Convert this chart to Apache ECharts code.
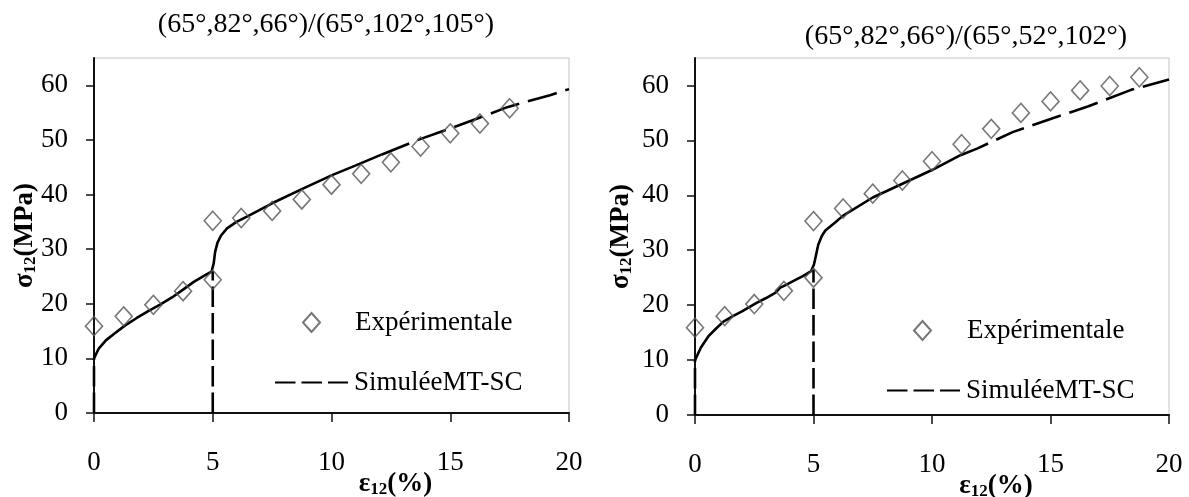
<!DOCTYPE html>
<html>
<head>
<meta charset="utf-8">
<script src="https://cdn.jsdelivr.net/npm/echarts@6/dist/echarts.min.js"></script>
<style>
html,body{margin:0;padding:0;background:#fff;}
#c{width:1189px;height:497px;}
</style>
</head>
<body>
<div id="c"></div>
<script>
// ---- data ----
const titles = ['(65°,82°,66°)/(65°,102°,105°)', '(65°,82°,66°)/(65°,52°,102°)'];
const xTicks = [0, 5, 10, 15, 20];
const yTicks = [0, 10, 20, 30, 40, 50, 60];
const expName = 'Expérimentale';
const simName = 'SimuléeMT-SC';

// experimental points
const expLeft = [[0,15.9],[1.25,17.7],[2.5,19.8],[3.75,22.3],[5,24.4],[5,35.2],[6.2,35.7],[7.5,37],[8.75,39.1],[10,41.8],[11.25,43.8],[12.5,45.9],[13.75,48.8],[15,51.2],[16.25,53],[17.5,55.8]];
const expRight = [[0,15.9],[1.25,18],[2.5,20.2],[3.75,22.6],[5,25],[5,35.3],[6.25,37.6],[7.5,40.3],[8.75,42.7],[10,46.2],[11.25,49.3],[12.5,52.1],[13.75,55],[15,57.1],[16.25,59.1],[17.5,59.9],[18.75,61.5]];

// simulated MT-SC curves (solid-looking dense part)
const simLeftCurve = [[0,10],[0.2,11.8],[0.5,13.3],[0.85,14.5],[1.3,16],[1.8,17.4],[2.3,18.7],[2.8,19.9],[3.3,21.2],[3.75,22.6],[4.2,24],[4.7,25.3],[4.95,25.9],[5.04,27.4],[5.1,29.5],[5.2,31.2],[5.35,32.5],[5.6,33.8],[6,35],[6.5,36.1],[7.5,38.4],[8.75,41],[10,43.5],[11,45.3],[12.1,47.3]];
const simLeftTail = [[12.1,47.3],[13.7,50.1],[15,52.1],[16.2,54],[17.4,56],[19.2,58.2],[20,59.3]];
const simLeftRise0 = [[0,0],[0,10]];
const simLeftRise5 = [[5,0],[5,26]];

const simRightCurve = [[0,10],[0.25,12.3],[0.56,14.3],[0.9,15.8],[1.2,17],[1.6,18],[2,18.9],[2.6,20.4],[3,21.3],[3.4,22.3],[3.6,23.2],[3.8,23.6],[4.2,24.5],[4.55,25.3],[4.9,26.2],[5.02,27.4],[5.1,29],[5.2,31],[5.35,32.6],[5.5,33.6],[5.9,35],[6.25,36.3],[7.5,39.6],[8.75,42.1],[10,44.6],[11.2,47.3]];
const simRightTail = [[11.2,47.3],[11.9,48.5],[13.4,51.5],[15,53.9],[16.6,56.2],[18.4,59.2],[20,61.1]];
const simRightRise0 = [[0,0],[0,10]];
const simRightRise5 = [[5,0],[5,26.5]];

// ---- chart ----
const FONT = 'Liberation Serif';
const chart = echarts.init(document.getElementById('c'), null, {renderer: 'canvas'});

function xAxisCfg(gi) {
  return {
    type: 'value', gridIndex: gi, min: 0, max: 20, interval: 5,
    name: '{a|ε}{b|12}{a|(%)}', nameLocation: 'middle', nameGap: 57, nameMoveOverlap: false,
    nameTextStyle: {
      padding: [0, 0, 0, 128],
      rich: {
        a: {fontFamily: FONT, fontWeight: 'bold', fontSize: 27, lineHeight: 28, color: '#000'},
        b: {fontFamily: FONT, fontWeight: 'bold', fontSize: 17, lineHeight: 14, verticalAlign: 'bottom', color: '#000'}
      }
    },
    axisLine: {show: true, lineStyle: {color: '#111', width: 2}},
    axisTick: {show: true, inside: false, length: 9, lineStyle: {color: '#111', width: 1.5}},
    axisLabel: {fontFamily: FONT, fontSize: 27, color: '#000', margin: 36},
    splitLine: {show: false}
  };
}
function yAxisCfg(gi, gap) {
  return {
    type: 'value', gridIndex: gi, min: 0, max: 65, interval: 10,
    name: '{a|σ}{b|12}{a|(MPa)}', nameLocation: 'middle', nameGap: gap, nameRotate: 90, nameMoveOverlap: false,
    nameTextStyle: {
      rich: {
        a: {fontFamily: FONT, fontWeight: 'bold', fontSize: 27, lineHeight: 28, color: '#000'},
        b: {fontFamily: FONT, fontWeight: 'bold', fontSize: 17, lineHeight: 14, verticalAlign: 'bottom', color: '#000'}
      }
    },
    axisLine: {show: true, lineStyle: {color: '#111', width: 2}},
    axisTick: {show: true, inside: false, length: 8, customValues: yTicks, lineStyle: {color: '#111', width: 1.5}},
    axisLabel: {fontFamily: FONT, fontSize: 27, color: '#000', margin: 26, customValues: yTicks},
    splitLine: {show: false}
  };
}
function expSeries(gi, data) {
  return {
    type: 'scatter', name: expName, xAxisIndex: gi, yAxisIndex: gi, data: data,
    symbol: 'diamond', symbolSize: [17, 19],
    itemStyle: {color: 'rgba(0,0,0,0)', borderColor: '#555', borderWidth: 1.6},
    z: 3
  };
}
function simSeries(gi, data, dash) {
  return {
    type: 'line', name: simName, xAxisIndex: gi, yAxisIndex: gi, data: data,
    symbol: 'none', showSymbol: false, smooth: false, color: '#000',
    lineStyle: {color: '#000', width: 2.6, type: dash || 'solid'},
    z: 2
  };
}
function expLegend(left, top, textPad) {
  return {
    data: [expName], left: left, top: top,
    itemWidth: 17, itemHeight: 19,
    textStyle: {fontFamily: FONT, fontSize: 27, color: '#000', padding: [0, 0, 0, textPad]},
    selectedMode: false
  };
}
function simLegend(left, top) {
  return {
    data: [simName], left: left, top: top,
    itemWidth: 73, itemHeight: 14,
    itemStyle: {opacity: 0},
    textStyle: {fontFamily: FONT, fontSize: 27, color: '#000', padding: [0, 0, 0, 1]},
    selectedMode: false
  };
}

const DASH_V = [20.5, 6];
const DASH_T = [30, 9];

const option = {
  animation: false,
  backgroundColor: '#fff',
  title: [
    {text: titles[0], left: 321, top: 6, textAlign: 'center', textStyle: {fontFamily: FONT, fontWeight: 'normal', fontSize: 28, color: '#000'}},
    {text: titles[1], left: 961, top: 18, textAlign: 'center', textStyle: {fontFamily: FONT, fontWeight: 'normal', fontSize: 28, color: '#000'}}
  ],
  grid: [
    {left: 94, right: 620, top: 58, bottom: 84, outerBoundsMode: 'none', containLabel: false, show: true, borderColor: '#c4c4c4', borderWidth: 1, backgroundColor: 'transparent'},
    {left: 695, right: 20, top: 58, bottom: 82, outerBoundsMode: 'none', containLabel: false, show: true, borderColor: '#c4c4c4', borderWidth: 1, backgroundColor: 'transparent'}
  ],
  xAxis: [xAxisCfg(0), xAxisCfg(1)],
  yAxis: [yAxisCfg(0, 55), yAxisCfg(1, 60)],
  legend: [
    expLegend(297, 304, 30),
    simLegend(269, 364),
    expLegend(908, 312, 31),
    simLegend(881, 372)
  ],
  series: [
    simSeries(0, simLeftRise0, DASH_V),
    simSeries(0, simLeftRise5, DASH_V),
    simSeries(0, simLeftTail, DASH_T),
    simSeries(0, simLeftCurve, null),
    expSeries(0, expLeft),
    simSeries(1, simRightRise0, DASH_V),
    simSeries(1, simRightRise5, DASH_V),
    simSeries(1, simRightTail, DASH_T),
    simSeries(1, simRightCurve, null),
    expSeries(1, expRight)
  ]
};
chart.setOption(option);
</script>
</body>
</html>
